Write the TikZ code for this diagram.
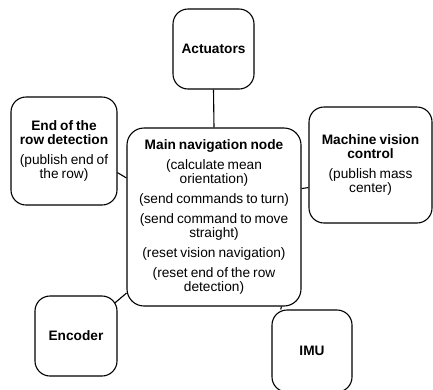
\documentclass[tikz,border=0pt]{standalone}
\usepackage{fontspec}
\setmainfont{Liberation Sans}[WordSpace=0.8]
\usetikzlibrary{backgrounds}
\tikzset{
  box/.style={draw, line width=1.1pt, rounded corners=15pt, fill=white, align=center,
    inner sep=0pt, font=\fontsize{13.7}{14}\selectfont},
  link/.style={line width=1.1pt},
}
\begin{document}
\begin{tikzpicture}[x=1pt,y=-1pt]
  \useasboundingbox (0,0) rectangle (433,389);
  % boxes
  \node[box, rounded corners=17pt, minimum width=174pt, minimum height=178pt] (main) at (214,217)
    {\textbf{Main navigation node}\\[6pt]
     (calculate mean\\orientation)\\[6pt]
     (send commands to turn)\\[6pt]
     (send command to move\\straight)\\[6pt]
     (reset vision navigation)\\[6pt]
     (reset end of the row\\detection)};
  \node[box, minimum width=81pt, minimum height=80pt] (act) at (213.5,49) {\textbf{Actuators}};
  \node[box, minimum width=106pt, minimum height=108pt] (row) at (64,151)
    {\textbf{End of the}\\\textbf{row detection}\\[6pt](publish end of\\the row)};
  \node[box, minimum width=123pt, minimum height=116pt] (mv) at (370.5,165)
    {\textbf{Machine vision}\\\textbf{control}\\[6pt](publish mass\\center)};
  \node[box, minimum width=82pt, minimum height=80pt] (enc) at (76,336) {\textbf{Encoder}};
  \node[box, minimum width=80pt, minimum height=82pt] (imu) at (312,351) {\textbf{IMU}};
  % connectors
  \draw[link] (act.south) -- (main.north);
  \draw[link] (row.-22.5) -- (main.156);
  \draw[link] (mv.200) -- (main.18);
  \draw[link] (main.-53) -- (imu.127);
  \begin{scope}[on background layer]
    \draw[link] (main.221) -- (enc.center);
  \end{scope}
\end{tikzpicture}
\end{document}
